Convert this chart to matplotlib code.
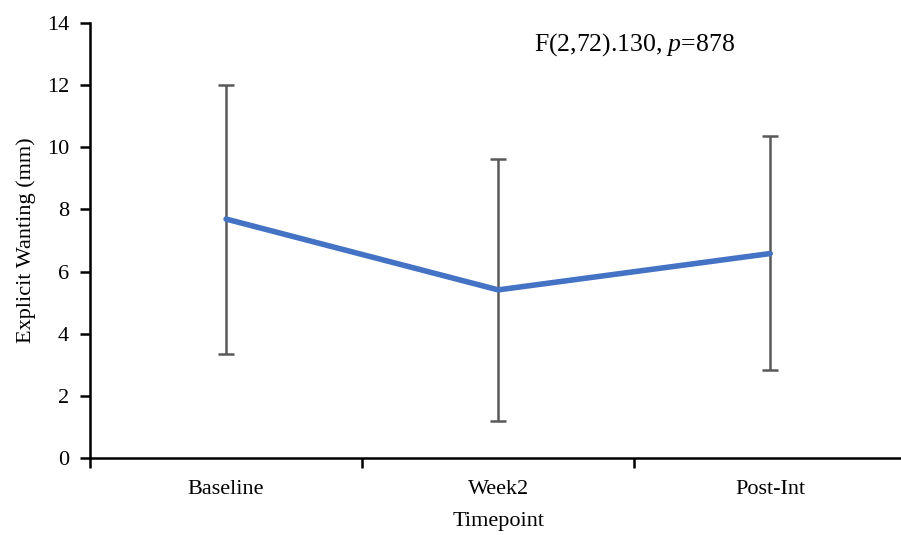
import numpy as np
import matplotlib.pyplot as plt

plt.rcParams['font.family'] = ['Liberation Serif', 'DejaVu Serif']
plt.rcParams['mathtext.fontset'] = 'custom'
plt.rcParams['mathtext.rm'] = 'Liberation Serif'
plt.rcParams['mathtext.it'] = 'Liberation Serif:italic'

# Datos
categorias = ['Baseline', 'Week2', 'Post-Int']
media = [7.69, 5.41, 6.58]
err_inf = [4.34, 4.22, 3.75]
err_sup = [4.31, 4.21, 3.78]

fig = plt.figure(figsize=(9.01, 5.35), dpi=100)
ax = fig.add_axes([0.0999, 0.144, 0.906, 0.813])

x = np.arange(len(categorias)) + 0.5
ax.errorbar(x, media, yerr=[err_inf, err_sup], fmt='none', ecolor='#595959',
            elinewidth=1.8, capsize=6, capthick=1.8, zorder=2)
ax.plot(x, media, color='#4472C4', linewidth=4, solid_capstyle='round', zorder=3)

ax.set_xlim(0, 3)
ax.set_ylim(0, 14)
ax.set_yticks(np.arange(0, 15, 2))
ax.set_xticks([0, 1, 2, 3])
ax.set_xticklabels([])
ax.set_xticks(x, minor=True)
ax.set_xticklabels(categorias, minor=True, fontsize=16)
ax.tick_params(axis='x', which='minor', length=0, pad=16)
ax.tick_params(axis='x', which='major', direction='out', length=7, width=1.8)
ax.tick_params(axis='y', direction='out', length=7, width=1.8, labelsize=16, pad=8)

for s in ['top', 'right']:
    ax.spines[s].set_visible(False)
for s in ['left', 'bottom']:
    ax.spines[s].set_linewidth(1.8)

ax.set_xlabel('Timepoint', fontsize=16, labelpad=9)
ax.set_ylabel('Explicit Wanting (mm)', fontsize=16, labelpad=8)

ax.text(2.0, 13.3, r'F(2,72).130, $\mathit{p}$=878', fontsize=18.5, ha='center', va='center')

fig.savefig('out.png', dpi=100)
